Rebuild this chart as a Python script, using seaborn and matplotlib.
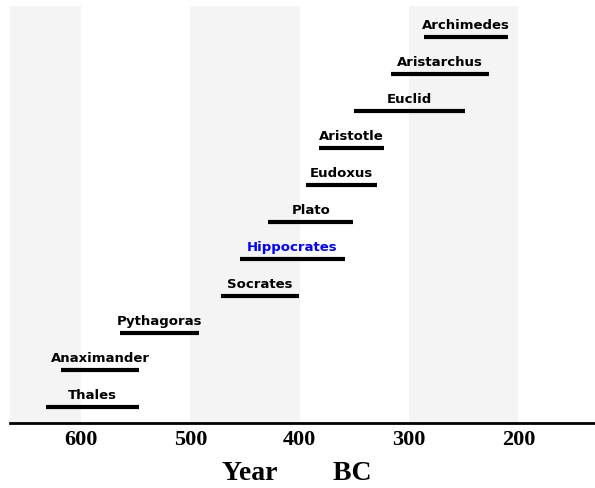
import numpy as np
import pandas as pd
import matplotlib
matplotlib.use("Agg")
import matplotlib.pyplot as plt
import seaborn as sns

names = ["Thales", "Anaximander", "Pythagoras", "Socrates", "Hippocrates",
         "Plato", "Eudoxus", "Aristotle", "Euclid", "Aristarchus", "Archimedes"]
born = [632, 618, 564, 472, 455, 429, 394, 382, 350, 317, 286]
died = [547, 547, 492, 401, 359, 351, 329, 323, 249, 227, 210]
highlight = "Hippocrates"

bands = [(600, 700), (400, 500), (200, 300)]
ticks = [600, 500, 400, 300, 200]

rows = []
for i, (n, b, d) in enumerate(zip(names, born, died)):
    rows.append({"name": n, "year": b, "row": i})
    rows.append({"name": n, "year": d, "row": i})
df = pd.DataFrame(rows)

sns.set_theme(style="white")
fig = plt.figure(figsize=(5.95, 4.88), dpi=100)
ax = fig.add_axes([10 / 595, 1 - 423 / 488, 585 / 595, 417 / 488])

for lo, hi in bands:
    ax.axvspan(lo, hi, color="#f4f4f4", lw=0, zorder=0)

sns.lineplot(data=df, x="year", y="row", units="name", estimator=None,
             color="black", lw=3, ax=ax, legend=False, sort=False,
             solid_capstyle="butt")

for i, (n, b, d) in enumerate(zip(names, born, died)):
    ax.text((b + d) / 2, i + 0.3, n, ha="center", va="center",
            fontsize=9.5, fontweight="bold", family="DejaVu Sans",
            color="blue" if n == highlight else "black")

ax.set_xlim(665, 130)
ax.set_ylim(-0.44, 10.84)
ax.set_yticks([])
ax.set_ylabel("")
ax.set_xticks(ticks)
ax.set_xticklabels([str(t) for t in ticks], family="Liberation Serif",
                   fontsize=16, fontweight="bold", color="black")
ax.tick_params(axis="x", direction="in", length=4, width=1.5, color="black", pad=5)
for s in ["left", "right", "top"]:
    ax.spines[s].set_visible(False)
ax.spines["bottom"].set_color("black")
ax.spines["bottom"].set_linewidth(2)
ax.set_xlabel("Year        BC", family="Liberation Serif", fontsize=20,
              fontweight="bold", color="black")
ax.xaxis.set_label_coords(0.49, -0.09)

fig.savefig("out.png", dpi=100)
